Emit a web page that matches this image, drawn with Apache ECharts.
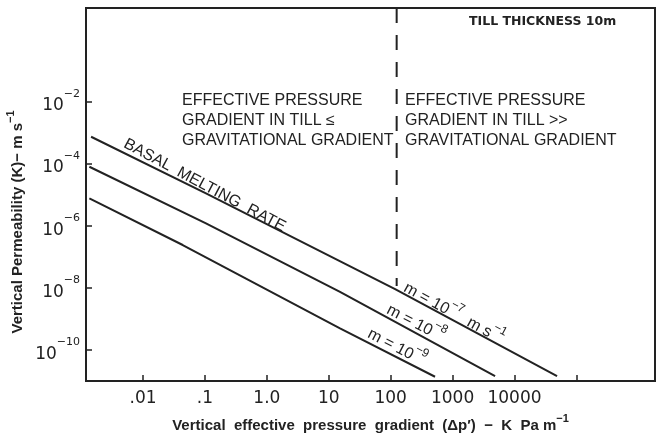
<!DOCTYPE html>
<html><head><meta charset="utf-8">
<script src="https://cdn.jsdelivr.net/npm/echarts@6/dist/echarts.min.js"></script>
<style>html,body{margin:0;padding:0;background:#fff}#c{width:657px;height:438px}</style>
</head><body><div id="c"></div>
<script>
// ---- axis ticks / labels ----
const xTickValues = [0.01, 0.1, 1, 10, 100, 1000, 10000, 100000];
const xLabelValues = [0.01, 0.1, 1, 10, 100, 1000, 10000];
const xLabelTexts = ['.01', '.1', '1.0', '10', '100', '1000', '10000'];
const yTickValues = [1e-2, 1e-4, 1e-6, 1e-8, 1e-10];
const yLabelExps = ['−2', '−4', '−6', '−8', '−10'];

// ---- series ----
const m7X = [0.00145, 0.104, 118, 48700];
const m7Y = [7.2e-4, 1.09e-5, 9.1e-9, 1.44e-11];
const m8X = [0.00136, 0.104, 15.2, 4860];
const m8Y = [7.8e-5, 1.18e-6, 7.4e-9, 1.44e-11];
const m9X = [0.00136, 0.0438, 15.2, 521];
const m9Y = [7.5e-6, 2.37e-7, 4.9e-10, 1.37e-11];
const dividerX = [125, 125];
const dividerY = [10, 1.13e-8];

const ink = '#222';
const pair = (xs, ys) => xs.map((x, i) => [x, ys[i]]);
const nearIdx = (arr, v) => arr.findIndex(a => Math.abs(Math.log10(a) - Math.log10(v)) < 0.01);
const deg = d => d * Math.PI / 180;
const sans = '"Liberation Sans", Arial, sans-serif';

const chart = echarts.init(document.getElementById('c'), null, {renderer: 'canvas'});
const lineSeries = (name, xs, ys) => ({
  name, type: 'line', data: pair(xs, ys), showSymbol: false, symbol: 'none',
  lineStyle: {color: ink, width: 2}, silent: true, animation: false
});
// rich styles: normal + superscript, same line height so 'top' raises the superscript
const richPair = (size, supSize, weight, lh) => ({
  n: {fontSize: size, fontFamily: sans, fontWeight: weight, fill: ink, color: ink, lineHeight: lh, verticalAlign: 'bottom'},
  s: {fontSize: supSize, fontFamily: sans, fontWeight: weight, fill: ink, color: ink, lineHeight: lh, verticalAlign: 'top'}
});
const richText = (x, y, rotDeg, text, size, supSize, align) => ({
  type: 'text', x, y, rotation: deg(rotDeg), silent: true,
  style: {text, fontSize: size, fontFamily: sans, fill: ink, align: align || 'left', textAlign: align || 'left',
          verticalAlign: 'bottom', textVerticalAlign: 'bottom', rich: richPair(size, supSize, 'normal', size + 6)}
});
const plainText = (x, y, text) => ({
  type: 'text', x, y, silent: true,
  style: {text, fontSize: 16, fontFamily: sans, fill: ink, verticalAlign: 'middle', textVerticalAlign: 'middle'}
});

chart.setOption({
  animation: false,
  backgroundColor: '#fff',
  grid: {left: 86, right: 2, top: 8, bottom: 57, show: true, borderColor: ink, borderWidth: 2, outerBoundsMode: 'none'},
  xAxis: {
    type: 'log', logBase: 10, min: 0.0012, max: 1.86e6,
    axisLine: {show: true, lineStyle: {color: ink, width: 2}},
    axisTick: {show: true, inside: true, length: 6, customValues: xTickValues, lineStyle: {color: ink, width: 1.5}},
    axisLabel: {
      customValues: xLabelValues, margin: 9, color: ink, fontFamily: 'DejaVu Sans', fontSize: 17,
      formatter: v => { const i = nearIdx(xLabelValues, v); return i >= 0 ? xLabelTexts[i] : ''; }
    },
    splitLine: {show: false},
    name: '{n|Vertical  effective  pressure  gradient  (Δp′)  −  K  Pa m}{s|−1}',
    nameLocation: 'middle', nameGap: 32,
    nameTextStyle: {color: ink, fontFamily: sans, fontSize: 15, fontWeight: 'bold', rich: richPair(15, 11, 'bold', 20)}
  },
  yAxis: {
    type: 'log', logBase: 10, min: 1e-11, max: 10,
    axisLine: {show: true, lineStyle: {color: ink, width: 2}},
    axisTick: {show: true, inside: true, length: 6, customValues: yTickValues, lineStyle: {color: ink, width: 1.5}},
    axisLabel: {
      customValues: yTickValues, margin: 6, color: ink,
      formatter: v => { const i = nearIdx(yTickValues, v); return i >= 0 ? '{b|10}{s|' + yLabelExps[i] + '}' : ''; },
      rich: {
        b: {fontFamily: 'DejaVu Sans', fontSize: 17, color: ink, lineHeight: 26, verticalAlign: 'bottom'},
        s: {fontFamily: 'DejaVu Sans', fontSize: 11, color: ink, lineHeight: 26, verticalAlign: 'top'}
      }
    },
    splitLine: {show: false}
  },
  series: [
    lineSeries('m = 10^-7', m7X, m7Y),
    lineSeries('m = 10^-8', m8X, m8Y),
    lineSeries('m = 10^-9', m9X, m9Y),
    {name: 'divider', type: 'line', data: pair(dividerX, dividerY), showSymbol: false, symbol: 'none',
     lineStyle: {color: ink, width: 2, type: [15, 12]}, silent: true}
  ],
  graphic: [
    {type: 'text', x: 15, y: 222, rotation: deg(90), silent: true,
     style: {text: '{n|Vertical Permeability (K)− m s}{s|−1}', fontSize: 15, fontFamily: sans, fontWeight: 'bold', fill: ink,
             align: 'center', verticalAlign: 'middle', textAlign: 'center', textVerticalAlign: 'middle',
             rich: richPair(15, 11, 'bold', 20)}},
    {type: 'text', x: 469, y: 22, silent: true,
     style: {text: 'TILL THICKNESS 10m', fontSize: 12.5, fontFamily: 'DejaVu Sans', fontWeight: 'bold', fill: ink,
             verticalAlign: 'middle', textVerticalAlign: 'middle'}},
    plainText(182, 101, 'EFFECTIVE PRESSURE'),
    plainText(182, 121, 'GRADIENT IN TILL ≤'),
    plainText(182, 141, 'GRAVITATIONAL GRADIENT'),
    plainText(405, 101, 'EFFECTIVE PRESSURE'),
    plainText(405, 121, 'GRADIENT IN TILL >>'),
    plainText(405, 141, 'GRAVITATIONAL GRADIENT'),
    {type: 'text', x: 121, y: 150, rotation: deg(-28), silent: true,
     style: {text: 'BASAL  MELTING  RATE', fontSize: 16, fontFamily: sans, fill: ink, verticalAlign: 'bottom', textVerticalAlign: 'bottom'}},
    richText(401, 294, -28.5, '{n|m = 10}{s|−7}{n|  m s}{s|−1}', 16, 12),
    richText(384, 316, -27.5, '{n|m = 10}{s|−8}', 16, 12),
    richText(365, 340, -27.5, '{n|m = 10}{s|−9}', 16, 12)
  ]
});
</script></body></html>
